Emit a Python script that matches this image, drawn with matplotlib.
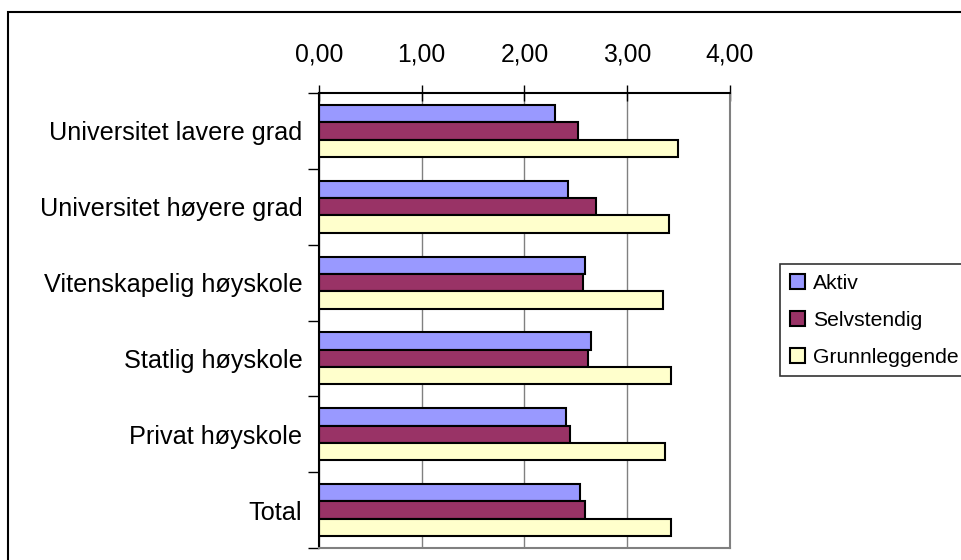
import numpy as np
import matplotlib.pyplot as plt
from matplotlib.patches import Rectangle
from matplotlib.ticker import FixedLocator, FuncFormatter

plt.rcParams['font.family'] = ['Liberation Sans', 'DejaVu Sans']

categories = ["Universitet lavere grad", "Universitet høyere grad",
              "Vitenskapelig høyskole", "Statlig høyskole",
              "Privat høyskole", "Total"]
series = ["Aktiv", "Selvstendig", "Grunnleggende"]
aktiv = [2.30, 2.42, 2.59, 2.65, 2.40, 2.54]
selvstendig = [2.52, 2.70, 2.57, 2.62, 2.44, 2.59]
grunnleggende = [3.49, 3.41, 3.35, 3.43, 3.37, 3.43]
colors = ["#9999FF", "#993366", "#FFFFCC"]

fig = plt.figure(figsize=(9.62, 5.6), dpi=100)
ax = fig.add_axes([319/962, 1-548/560, (730-319)/962, (548-93)/560])

y = np.arange(len(categories))
h = 0.228
for i, (vals, name) in enumerate(zip([aktiv, selvstendig, grunnleggende], series)):
    ax.barh(y + (i - 1) * h, vals, height=h, color=colors[i], edgecolor="black",
            linewidth=1.5, label=name, zorder=3)

ax.set_xlim(0, 4)
ax.set_ylim(len(categories) - 0.5, -0.5)
ax.xaxis.tick_top()
ax.set_xticks([0, 1, 2, 3, 4])
ax.xaxis.set_major_formatter(FuncFormatter(lambda v, p: f"{v:.2f}".replace(".", ",")))
ax.tick_params(axis="x", direction="inout", length=12, width=1, pad=13, labelsize=17.8)
ax.grid(axis="x", color="#808080", linewidth=1, zorder=0)

ax.set_yticks(y)
ax.set_yticklabels(categories)
ax.yaxis.set_minor_locator(FixedLocator(np.arange(-0.5, len(categories), 1)))
ax.tick_params(axis="y", which="major", length=0, pad=12, labelsize=18.2)
ax.tick_params(axis="y", which="minor", length=8, width=1, direction="out")

ax.spines["top"].set_color("black")
ax.spines["left"].set_color("black")
ax.spines["right"].set_color("#808080")
ax.spines["bottom"].set_color("#808080")
for s in ax.spines.values():
    s.set_linewidth(1.5)
    s.set_zorder(4)

leg = fig.legend(loc="upper left", bbox_to_anchor=(780/962, 1-264/560),
                 bbox_transform=fig.transFigure, fontsize=15.2, frameon=True,
                 fancybox=False, edgecolor="black", borderaxespad=0,
                 handlelength=0.75, handleheight=0.75, handletextpad=0.35,
                 labelspacing=0.85, borderpad=0.45)
leg.get_frame().set_linewidth(1.2)

fig.patches.append(Rectangle((8/962, -0.5), 2, 1.5 - 12/560, fill=False,
                             edgecolor="black", linewidth=1.5,
                             transform=fig.transFigure, figure=fig))

fig.savefig("out.png", dpi=100)
